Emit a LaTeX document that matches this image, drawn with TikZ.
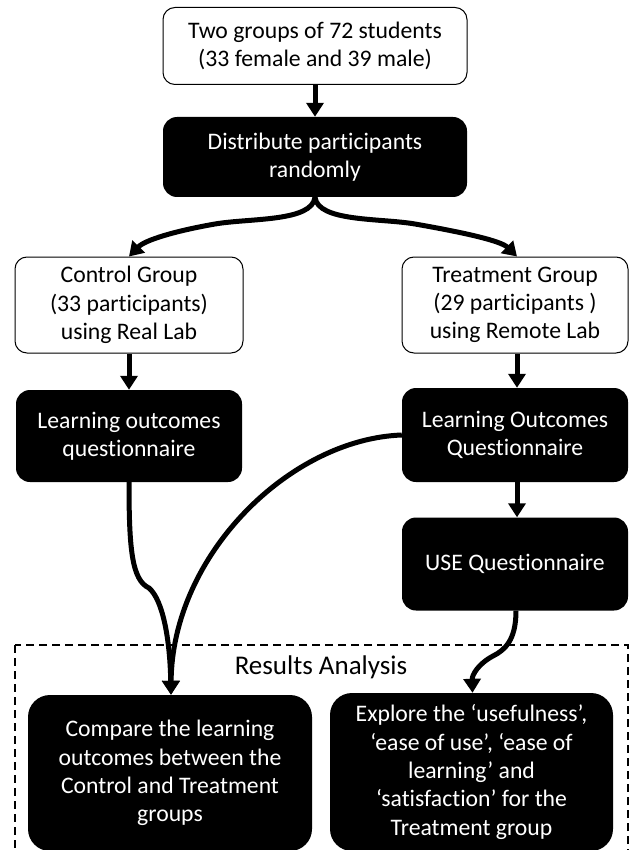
\documentclass[tikz,border=0pt]{standalone}
\usepackage{fontspec}
\setmainfont[Ligatures={NoCommon}]{Carlito}
\usetikzlibrary{arrows.meta}
\begin{document}
\begin{tikzpicture}[x=1pt,y=-1pt,
  txt/.style={align=center, font=\fontsize{23.7}{28.3}\selectfont, inner sep=0pt},
  whitebox/.style={txt, draw=black, line width=1pt, fill=white, rounded corners=12pt},
  blackbox/.style={txt, fill=black, text=white, rounded corners=14pt},
  bigbox/.style={txt, fill=black, text=white, rounded corners=22pt},
  conn/.style={line width=5pt, -{Triangle[length=14pt,width=17pt]}},
  dashbox/.style={draw=black, line width=1.1pt, dash pattern=on 8pt off 5pt}
]
\useasboundingbox (0,0) rectangle (629,850);

\node[whitebox, minimum width=304pt, minimum height=77pt] (top) at (315,46)
  {Two groups of 72 students\\(33 female and 39 male)};
\node[blackbox, minimum width=304pt, minimum height=80pt] (dist) at (315,157)
  {Distribute participants\\randomly};
\node[whitebox, minimum width=228pt, minimum height=96pt] (ctrl) at (129,305)
  {Control Group\\(33 participants)\\using Real Lab};
\node[whitebox, minimum width=226pt, minimum height=96pt] (trt) at (515,305)
  {Treatment Group\\(29 participants )\\using Remote Lab};
\node[blackbox, minimum width=226pt, minimum height=92pt] (loc) at (129,436)
  {Learning outcomes\\questionnaire};
\node[blackbox, minimum width=226pt, minimum height=94pt] (loq) at (515,435)
  {Learning Outcomes\\Questionnaire};
\node[blackbox, minimum width=226pt, minimum height=93pt] (use) at (515,564)
  {USE Questionnaire};

\draw[dashbox] (15,645) rectangle (628,880);
\node[txt, font=\fontsize{27}{32}\selectfont] (ra) at (321,667) {Results Analysis};

\node[bigbox, minimum width=284pt, minimum height=156pt] (cmp) at (170,773)
  {Compare the learning\\outcomes between the\\Control and Treatment\\groups};
\node[bigbox, minimum width=283pt, minimum height=158pt] (exp) at (471.5,772)
  {Explore the ‘usefulness’,\\‘ease of use’, ‘ease of\\learning’ and\\‘satisfaction’ for the\\Treatment group};

\coordinate (k1) at (149,588);
\coordinate (k2) at (493,656);

\draw[conn] (top.south) -- (dist.north);
\draw[conn] (dist.south) .. controls (312,222) and (250,218) .. (215,224)
  .. controls (175,231) and (145,240) .. (ctrl.north);
\draw[conn] (dist.south) .. controls (318,222) and (380,218) .. (415,224)
  .. controls (455,231) and (500,240) .. ([xshift=2pt]trt.north);
\draw[conn] (ctrl.south) -- (loc.north);
\draw[conn] ([xshift=2pt]trt.south) -- ([xshift=2pt]loq.north);
\draw[conn] ([xshift=2pt]loq.south) -- ([xshift=2pt]use.north);
\draw[conn] (loc.south) .. controls (129,550) and (132,580) .. (k1)
  .. controls (163,600) and (170,640) .. ([xshift=1pt]cmp.north);
\draw[conn] (loq.west) .. controls (290,439) and (172,555) .. ([xshift=1pt]cmp.north);
\draw[conn] ([xshift=1pt]use.south) .. controls (516,640) and (505,650) .. (k2)
  .. controls (478,664) and (472,675) .. ([xshift=1pt]exp.north);
\end{tikzpicture}
\end{document}
